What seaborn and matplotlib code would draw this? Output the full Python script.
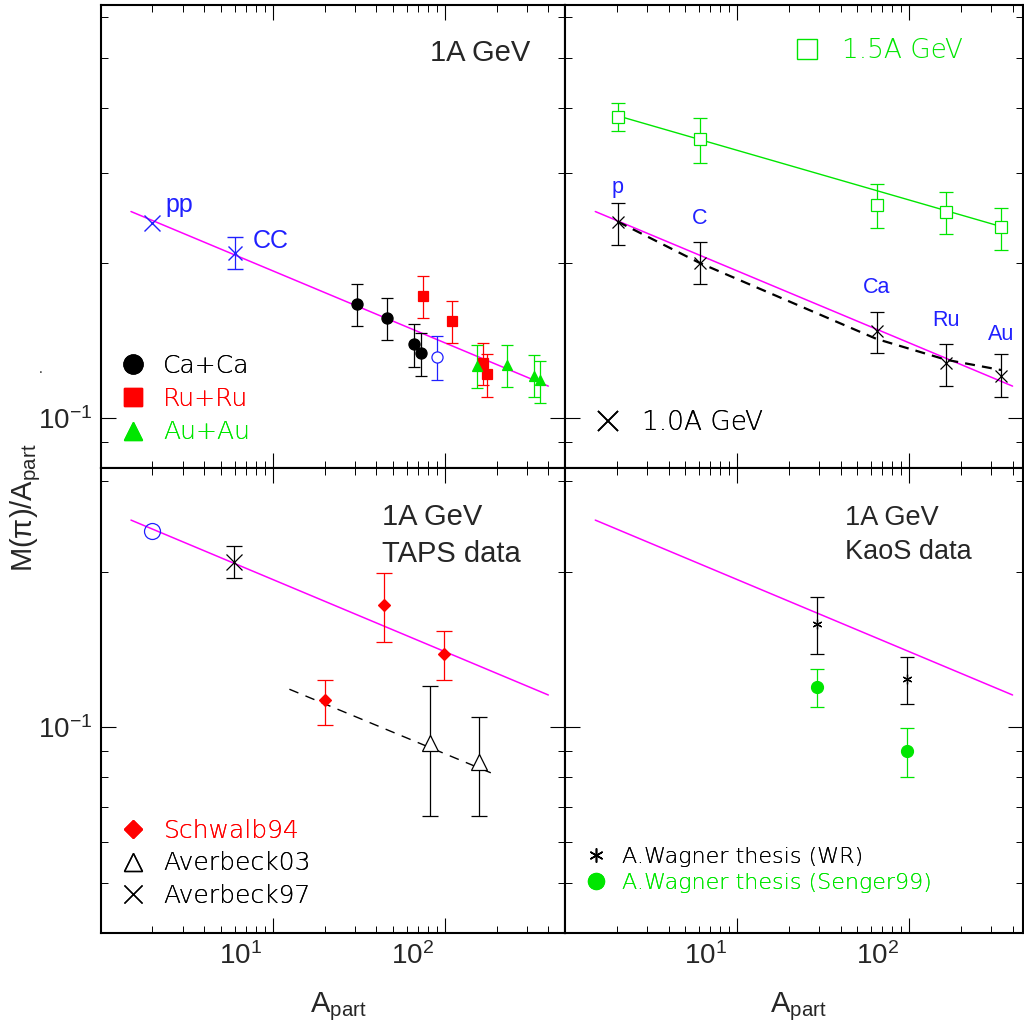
import numpy as np
import matplotlib
matplotlib.use("Agg")
import matplotlib.pyplot as plt
import matplotlib.ticker as mticker
from matplotlib.lines import Line2D
from matplotlib.transforms import ScaledTranslation
import seaborn as sns

# ---- data (A_part, M(pi)/A_part) ----
# common fit line drawn in all four panels
fit_a = [1.5, 400]
fit_m = [0.252, 0.1155]

# top-left, 1A GeV
pp_a, pp_m = [2.0], [0.239]
cc_a, cc_m, cc_lo, cc_hi = [6.0], [0.209], [0.1947], [0.2246]
ca_a = [30.9, 46.3, 66.2, 72.4]
ca_m = [0.1668, 0.1569, 0.1394, 0.1337]
ca_lo = [0.1509, 0.1417, 0.1260, 0.1210]
ca_hi = [0.1820, 0.1713, 0.1522, 0.1462]
open_a, open_m, open_lo, open_hi = [90.6], [0.1318], [0.1187], [0.1445]
ru_a = [74.7, 110.9, 166.0, 175.2]
ru_m = [0.1731, 0.1546, 0.1279, 0.1217]
ru_lo = [0.1564, 0.1398, 0.1161, 0.1102]
ru_hi = [0.1890, 0.1692, 0.1398, 0.1331]
au_a = [155.0, 229.0, 330.0, 358.6]
au_m = [0.1264, 0.1270, 0.1210, 0.1187]
au_lo = [0.1147, 0.1152, 0.1098, 0.1073]
au_hi = [0.1388, 0.1390, 0.1328, 0.1294]

# top-right, energy dependence
sys_a = [2.02, 6.06, 64.8, 164.9, 343.5]
sys_names = ["p", "C", "Ca", "Ru", "Au"]
e15_m = [0.3853, 0.3486, 0.2597, 0.2512, 0.2350]
e15_lo = [0.3614, 0.3137, 0.2346, 0.2280, 0.2123]
e15_hi = [0.4090, 0.3824, 0.2847, 0.2755, 0.2557]
e15_fit_a = [2.02, 343.5]
e15_fit_m = [0.3866, 0.2356]
e10_m = [0.2410, 0.2006, 0.1478, 0.1279, 0.1210]
e10_lo = [0.2171, 0.1824, 0.1337, 0.1157, 0.1102]
e10_hi = [0.2615, 0.2204, 0.1612, 0.1394, 0.1331]
model_m = [0.2410, 0.2003, 0.1426, 0.1299, 0.1241]

# bottom-left, TAPS
taps_open_a, taps_open_m = [1.98], [0.2399]
av97_a, av97_m, av97_lo, av97_hi = [5.97], [0.209], [0.195], [0.2246]
sch_a = [20.2, 44.2, 99.1]
sch_m = [0.1127, 0.1723, 0.1388]
sch_lo = [0.1011, 0.1462, 0.1236]
sch_hi = [0.1236, 0.1986, 0.1536]
av03_a = [82.1, 158.6]
av03_m = [0.0931, 0.0855]
av03_lo = [0.0674, 0.0674]
av03_hi = [0.1200, 0.1045]
taps_fit_a = [12.5, 203.0]
taps_fit_m = [0.1185, 0.0806]

# bottom-right, KaoS
kaos_a = [29.1, 98.0]
wr_m, wr_lo, wr_hi = [0.1588, 0.1238], [0.1388, 0.1110], [0.1788, 0.1367]
sg_m, sg_lo, sg_hi = [0.1196, 0.0898], [0.1097, 0.0800], [0.1296, 0.0997]

MAG = "#ff00ff"
GRN = "#00e600"
RED = "#ff0000"
BLU = "#2020ff"
BLK = "#000000"
ASTER = (6, 2, 0)

sns.set_theme(style="ticks")
plt.rcParams["font.family"] = ["Liberation Sans", "DejaVu Sans"]
plt.rcParams["mathtext.fontset"] = "custom"
plt.rcParams["mathtext.rm"] = "Liberation Sans"
plt.rcParams["mathtext.it"] = "Liberation Sans:italic"
KEYFONT = {"family": "DejaVu Sans", "weight": "light"}

fig = plt.figure(figsize=(10.24, 10.30), dpi=100)
W, H = 1024, 1030
xl, xm, xr = 100.7, 565, 1023
yt, ym, yb = 4.7, 468.3, 932.7


def box(x0, x1, y0, y1):
    return [x0 / W, 1 - y1 / H, (x1 - x0) / W, (y1 - y0) / H]


ax_tl = fig.add_axes(box(xl, xm, yt, ym))
ax_tr = fig.add_axes(box(xm, xr, yt, ym))
ax_bl = fig.add_axes(box(xl, xm, ym, yb))
ax_br = fig.add_axes(box(xm, xr, ym, yb))


def style(ax, xlim, ylim, left, bottom):
    ax.set_xscale("log")
    ax.set_yscale("log")
    ax.set_xlim(*xlim)
    ax.set_ylim(*ylim)
    ax.xaxis.set_major_locator(mticker.FixedLocator([10, 100]))
    ax.xaxis.set_minor_locator(mticker.LogLocator(base=10, subs=np.arange(2, 10), numticks=20))
    ax.yaxis.set_major_locator(mticker.FixedLocator([0.1]))
    ax.yaxis.set_minor_locator(mticker.LogLocator(base=10, subs=np.arange(2, 10), numticks=20))
    ax.xaxis.set_minor_formatter(mticker.NullFormatter())
    ax.yaxis.set_minor_formatter(mticker.NullFormatter())
    ax.xaxis.set_major_formatter(mticker.LogFormatterSciNotation())
    ax.yaxis.set_major_formatter(mticker.LogFormatterSciNotation())
    ax.tick_params(which="both", direction="in", top=True, right=True, color="black",
                   labelbottom=bottom, labelleft=left, labelsize=20)
    ax.tick_params(which="major", length=10.8, width=0.8)
    ax.tick_params(which="minor", length=5.2, width=0.7)
    ax.tick_params(axis="x", pad=7)
    ax.tick_params(axis="y", pad=6)
    for s in ax.spines.values():
        s.set_linewidth(1.5)
        s.set_color("black")
    ax.set_facecolor("white")
    if bottom:
        for lbl in ax.get_xticklabels():
            lbl.set_transform(lbl.get_transform() + ScaledTranslation(-0.32, 0, fig.dpi_scale_trans))


style(ax_tl, (1, 500), (0.08, 0.635), True, False)
style(ax_tr, (1, 460), (0.08, 0.635), False, False)
style(ax_bl, (1, 500), (0.04, 0.3175), True, True)
style(ax_br, (1, 460), (0.04, 0.3175), False, True)


def points(ax, a, m, lo, hi, color, marker, ms, face=None, cap=4, mew=0.9):
    m = np.asarray(m)
    yerr = [m - np.asarray(lo), np.asarray(hi) - m]
    ax.errorbar(a, m, yerr=yerr, fmt="", ls="none", marker=marker, ms=ms,
                mfc=face if face else color, mec=color, mew=mew, ecolor=color,
                elinewidth=0.9, capsize=cap, capthick=0.9, zorder=4)


def line(ax, a, m, color, lw, ls="-"):
    sns.lineplot(x=a, y=m, ax=ax, color=color, lw=lw, linestyle=ls, zorder=2, legend=False)


def keys(ax, handles, labels, colors, marker_x, text_x, center_y, fs, row):
    bb = ax.get_position()
    fs_px = fs * 100 / 72
    hl = 1.0
    left = marker_x - hl * fs_px / 2
    pad = (text_x - left - hl * fs_px) / fs_px
    fx = (left - bb.x0 * W) / (bb.width * W)
    fy = 1 - (center_y - (1 - bb.y1) * H) / (bb.height * H)
    leg = ax.legend(handles, labels, loc="center left", bbox_to_anchor=(fx, fy), frameon=False,
                    prop=dict(KEYFONT, size=fs), handlelength=hl, handletextpad=pad,
                    labelspacing=max(row / fs_px - 0.93, 0.0), borderpad=0, borderaxespad=0)
    for t, c in zip(leg.get_texts(), colors):
        t.set_color(c)
    ax.add_artist(leg)


def key(marker, color, ms, face=None, mew=1.0):
    return Line2D([], [], ls="none", marker=marker, ms=ms, mec=color,
                  mfc=face if face else color, mew=mew)


# ---- top-left ----
ax = ax_tl
line(ax, fit_a, fit_m, MAG, 1.1)
ax.plot(pp_a, pp_m, ls="none", marker="x", ms=11.5, mec=BLU, mew=1.0, zorder=4)
points(ax, cc_a, cc_m, cc_lo, cc_hi, BLU, "x", 10, cap=5.5, mew=1.0)
points(ax, ca_a, ca_m, ca_lo, ca_hi, BLK, "o", 8)
points(ax, open_a, open_m, open_lo, open_hi, BLU, "o", 8, face="white")
points(ax, ru_a, ru_m, ru_lo, ru_hi, RED, "s", 7.5)
points(ax, au_a, au_m, au_lo, au_hi, GRN, "^", 7.5)
ax.annotate("pp", (pp_a[0], pp_m[0]), xytext=(9, 8), textcoords="offset points",
            color=BLU, fontsize=18, ha="left", va="baseline")
ax.annotate("CC", (cc_a[0], cc_m[0]), xytext=(13, 4), textcoords="offset points",
            color=BLU, fontsize=18, ha="left", va="baseline")
ax.text(0.9246, 0.8792, "1A GeV", transform=ax.transAxes, fontsize=21, ha="right", va="baseline")
keys(ax, [key("o", BLK, 13.7), key("s", RED, 13.4), key("^", GRN, 13)],
     ["Ca+Ca", "Ru+Ru", "Au+Au"], [BLK, RED, GRN], 133, 163, 399, 18, 32.5)

# ---- top-right ----
ax = ax_tr
line(ax, fit_a, fit_m, MAG, 1.1)
line(ax, e15_fit_a, e15_fit_m, GRN, 1.0)
line(ax, sys_a, model_m, BLK, 1.6, ls=(0, (4.5, 3.2)))
points(ax, sys_a, e15_m, e15_lo, e15_hi, GRN, "s", 8, face="white", cap=5)
points(ax, sys_a, e10_m, e10_lo, e10_hi, BLK, "x", 8.5, cap=5)
for a, v, name, dy in zip(sys_a, e10_m, sys_names, [20.5, 27.5, 27, 26.5, 25.5]):
    ax.annotate(name, (a, v), xytext=(0, dy), textcoords="offset points", color=BLU,
                fontsize=15.5, ha="center", va="baseline")
keys(ax, [key("s", GRN, 14.4, face="none")], ["1.5A GeV"], [GRN], 806.7, 841.7, 50.7, 19, 30)
keys(ax, [key("x", BLK, 14.4, mew=1.2)], ["1.0A GeV"], [BLK], 607.7, 641.7, 422.3, 19, 30)

# ---- bottom-left ----
ax = ax_bl
line(ax, fit_a, fit_m, MAG, 1.1)
line(ax, taps_fit_a, taps_fit_m, BLK, 1.0, ls=(0, (7, 5.5)))
ax.plot(taps_open_a, taps_open_m, ls="none", marker="o", ms=11.5, mfc="none", mec=BLU, mew=0.9, zorder=4)
points(ax, av97_a, av97_m, av97_lo, av97_hi, BLK, "x", 11, cap=5.5)
points(ax, sch_a, sch_m, sch_lo, sch_hi, RED, "D", 6.2, cap=5.5)
points(ax, av03_a, av03_m, av03_lo, av03_hi, BLK, "^", 11.5, face="white", cap=5.5)
ax.text(0.6052, 0.878, "1A GeV", transform=ax.transAxes, fontsize=21, ha="left", va="baseline")
ax.text(0.6052, 0.799, "TAPS data", transform=ax.transAxes, fontsize=21, ha="left", va="baseline")
keys(ax, [key("D", RED, 9.2), key("^", BLK, 13, face="none"), key("x", BLK, 13)],
     ["Schwalb94", "Averbeck03", "Averbeck97"], [RED, BLK, BLK], 133.3, 163.3, 863.3, 18, 31.7)

# ---- bottom-right ----
ax = ax_br
line(ax, fit_a, fit_m, MAG, 1.1)
points(ax, kaos_a, wr_m, wr_lo, wr_hi, BLK, ASTER, 7, cap=5)
points(ax, kaos_a, sg_m, sg_lo, sg_hi, GRN, "o", 8.6, cap=5)
ax.text(0.6114, 0.878, "1A GeV", transform=ax.transAxes, fontsize=19.5, ha="left", va="baseline")
ax.text(0.6114, 0.805, "KaoS data", transform=ax.transAxes, fontsize=19.5, ha="left", va="baseline")
keys(ax, [key(ASTER, BLK, 10), key("o", GRN, 11.5)],
     ["A.Wagner thesis (WR)", "A.Wagner thesis (Senger99)"], [BLK, GRN], 596, 621.7, 870, 16, 26.7)

# ---- axis titles ----
fig.text(26 / W, 1 - 508 / H, "M(π)/A$_{\\mathrm{part}}$", rotation=90, fontsize=21,
         ha="center", va="center")
for cx in (338, 798):
    fig.text(cx / W, 1 - 1012 / H, "A$_{\\mathrm{part}}$", fontsize=21, ha="center", va="baseline")
fig.text(41 / W, 1 - 373 / H, ".", fontsize=10, ha="center", va="baseline")

fig.savefig("out.png", dpi=100, facecolor="white")
